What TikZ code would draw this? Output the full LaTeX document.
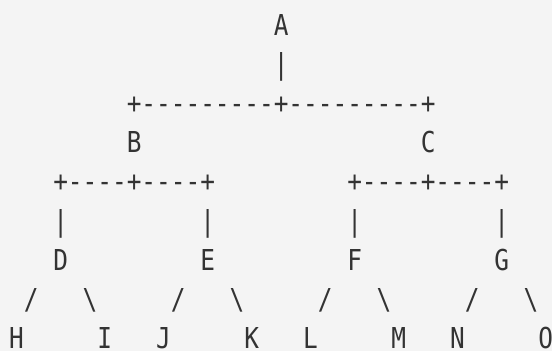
\documentclass[tikz,border=0pt]{standalone}
\usepackage{fontspec}
\newfontfamily\asciimono[FakeStretch=0.848]{DejaVu Sans Mono}
\definecolor{bgcol}{HTML}{F4F4F4}
\definecolor{inkcol}{HTML}{333333}
\begin{document}
\begin{tikzpicture}[x=14.7pt, y=-39.2pt,
  ch/.style={anchor=base west, inner sep=0pt, outer sep=0pt, text=inkcol,
    font=\asciimono\fontsize{28.8pt}{30pt}\selectfont}]
\fill[bgcol] (0pt,0pt) rectangle (552pt,-351pt);
\useasboundingbox (0pt,0pt) rectangle (552pt,-351pt);
\begin{scope}[shift={(9.15pt,-35pt)}]
% line 1
\node[ch] (A) at (18,0) {A};
% line 2
\node[ch] (barA) at (18,1) {\textbar};
% line 3
\node[ch] (busA) at (8,2) {+---------+---------+};
% line 4
\node[ch] (B) at (8,3) {B};
\node[ch] (C) at (28,3) {C};
% line 5
\node[ch] (busB) at (3,4) {+----+----+};
\node[ch] (busC) at (23,4) {+----+----+};
% line 6
\node[ch] (barD) at (3,5) {\textbar};
\node[ch] (barE) at (13,5) {\textbar};
\node[ch] (barF) at (23,5) {\textbar};
\node[ch] (barG) at (33,5) {\textbar};
% line 7
\node[ch] (D) at (3,6) {D};
\node[ch] (E) at (13,6) {E};
\node[ch] (F) at (23,6) {F};
\node[ch] (G) at (33,6) {G};
% line 8
\node[ch] (sDH) at (1,7) {/};
\node[ch] (sDI) at (5,7) {\textbackslash};
\node[ch] (sEJ) at (11,7) {/};
\node[ch] (sEK) at (15,7) {\textbackslash};
\node[ch] (sFL) at (21,7) {/};
\node[ch] (sFM) at (25,7) {\textbackslash};
\node[ch] (sGN) at (31,7) {/};
\node[ch] (sGO) at (35,7) {\textbackslash};
% line 9
\node[ch] (H) at (0,8) {H};
\node[ch] (I) at (6,8) {I};
\node[ch] (J) at (10,8) {J};
\node[ch] (K) at (16,8) {K};
\node[ch] (L) at (20,8) {L};
\node[ch] (M) at (26,8) {M};
\node[ch] (N) at (30,8) {N};
\node[ch] (O) at (36,8) {O};
\end{scope}
\end{tikzpicture}
\end{document}
